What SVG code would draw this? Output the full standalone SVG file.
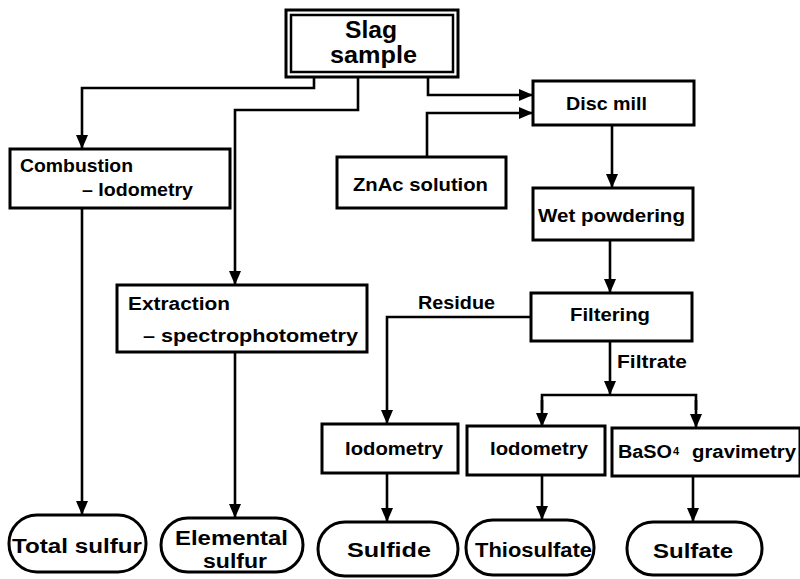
<svg xmlns="http://www.w3.org/2000/svg" width="800" height="579" viewBox="0 0 800 579">
<defs>
<marker id="ah" markerUnits="userSpaceOnUse" markerWidth="14" markerHeight="12" refX="14" refY="6" orient="auto">
<path d="M0,0 L14,6 L0,12 Z" fill="#000"/>
</marker>
<style>
.box{fill:#fff;stroke:#000;stroke-width:3}
.ov{fill:#fff;stroke:#000;stroke-width:3}
.ln{fill:none;stroke:#000;stroke-width:2.6}
.t{font-family:"Liberation Sans",Arial,sans-serif;font-weight:bold;font-size:18px;fill:#000}
.big{font-size:24px}
.ov-t{font-size:20px}
.sub{font-size:11px}
</style>
</defs>
<rect width="800" height="579" fill="#fff"/>
<g id="connectors">
<polyline class="ln" points="314,76 314,88 82,88 82,149" marker-end="url(#ah)"/>
<polyline class="ln" points="358,76 358,110 235,110 235,285" marker-end="url(#ah)"/>
<polyline class="ln" points="428,76 428,95 533,95" marker-end="url(#ah)"/>
<polyline class="ln" points="427,157 427,113 533,113" marker-end="url(#ah)"/>
<polyline class="ln" points="612,125 612,188" marker-end="url(#ah)"/>
<polyline class="ln" points="610,240 610,293" marker-end="url(#ah)"/>
<polyline class="ln" points="531,317 387,317 387,424" marker-end="url(#ah)"/>
<polyline class="ln" points="610,341 610,395" marker-end="url(#ah)"/>
<polyline class="ln" points="542,410 542,395 696,395 696,410"/>
<polyline class="ln" points="542,400 542,427" marker-end="url(#ah)"/>
<polyline class="ln" points="696,400 696,428" marker-end="url(#ah)"/>
<polyline class="ln" points="82,208 82,515" marker-end="url(#ah)"/>
<polyline class="ln" points="235,352 235,518" marker-end="url(#ah)"/>
<polyline class="ln" points="387,473 387,522" marker-end="url(#ah)"/>
<polyline class="ln" points="542,475 542,520" marker-end="url(#ah)"/>
<polyline class="ln" points="693,476 693,522" marker-end="url(#ah)"/>
<text class="t" x="418" y="309" textLength="77" lengthAdjust="spacingAndGlyphs">Residue</text>
<text class="t" x="617" y="368" textLength="70" lengthAdjust="spacingAndGlyphs">Filtrate</text>
</g>
<g id="slag">
<rect x="286" y="10" width="172" height="67" fill="#fff" stroke="#000" stroke-width="3"/>
<rect x="291" y="15" width="162" height="57" fill="none" stroke="#000" stroke-width="2.5"/>
<text class="t big" x="345" y="38" textLength="52" lengthAdjust="spacingAndGlyphs">Slag</text>
<text class="t big" x="330" y="63" textLength="87" lengthAdjust="spacingAndGlyphs">sample</text>
</g>
<g id="discmill">
<rect class="box" x="533" y="81" width="161" height="44"/>
<text class="t" x="566" y="110" textLength="81" lengthAdjust="spacingAndGlyphs">Disc mill</text>
</g>
<g id="znac">
<rect class="box" x="337" y="157" width="169" height="51"/>
<text class="t" x="353" y="191" textLength="135" lengthAdjust="spacingAndGlyphs">ZnAc solution</text>
</g>
<g id="wetpowdering">
<rect class="box" x="533" y="188" width="160" height="52"/>
<text class="t" x="538" y="222" textLength="147" lengthAdjust="spacingAndGlyphs">Wet powdering</text>
</g>
<g id="filtering">
<rect class="box" x="531" y="293" width="161" height="48"/>
<text class="t" x="570" y="321" textLength="80" lengthAdjust="spacingAndGlyphs">Filtering</text>
</g>
<g id="combustion">
<rect class="box" x="10" y="149" width="220" height="59"/>
<text class="t" x="20" y="172" textLength="113" lengthAdjust="spacingAndGlyphs">Combustion</text>
<text class="t" x="82" y="196" textLength="111" lengthAdjust="spacingAndGlyphs">– Iodometry</text>
</g>
<g id="extraction">
<rect class="box" x="117" y="285" width="250" height="67"/>
<text class="t" x="128" y="310" textLength="102" lengthAdjust="spacingAndGlyphs">Extraction</text>
<text class="t" x="143" y="342" textLength="215" lengthAdjust="spacingAndGlyphs">– spectrophotometry</text>
</g>
<g id="iodometry1">
<rect class="box" x="322" y="424" width="136" height="49"/>
<text class="t" x="345" y="455" textLength="98" lengthAdjust="spacingAndGlyphs">Iodometry</text>
</g>
<g id="iodometry2">
<rect class="box" x="467" y="426" width="138" height="49"/>
<text class="t" x="490" y="455" textLength="98" lengthAdjust="spacingAndGlyphs">Iodometry</text>
</g>
<g id="baso4">
<rect class="box" x="612" y="428" width="188" height="48"/>
<text class="t" x="618" y="458" textLength="54" lengthAdjust="spacingAndGlyphs">BaSO</text>
<text class="t sub" x="673" y="455">4</text>
<text class="t" x="692" y="458" textLength="104" lengthAdjust="spacingAndGlyphs">gravimetry</text>
</g>
<g id="totalsulfur">
<rect class="ov" x="9" y="515" width="137" height="57" rx="28" ry="28"/>
<text class="t ov-t" x="12" y="553" textLength="130" lengthAdjust="spacingAndGlyphs">Total sulfur</text>
</g>
<g id="elemental">
<rect class="ov" x="161" y="518" width="142" height="54" rx="27" ry="27"/>
<text class="t ov-t" x="175" y="545" textLength="113" lengthAdjust="spacingAndGlyphs">Elemental</text>
<text class="t ov-t" x="203" y="568" textLength="64" lengthAdjust="spacingAndGlyphs">sulfur</text>
</g>
<g id="sulfide">
<rect class="ov" x="318" y="522" width="140" height="54" rx="27" ry="27"/>
<text class="t ov-t" x="347" y="557" textLength="84" lengthAdjust="spacingAndGlyphs">Sulfide</text>
</g>
<g id="thiosulfate">
<rect class="ov" x="466" y="520" width="128" height="55" rx="27" ry="27"/>
<text class="t ov-t" x="475" y="557" textLength="117" lengthAdjust="spacingAndGlyphs">Thiosulfate</text>
</g>
<g id="sulfate">
<rect class="ov" x="627" y="522" width="135" height="53" rx="26" ry="26"/>
<text class="t ov-t" x="653" y="558" textLength="80" lengthAdjust="spacingAndGlyphs">Sulfate</text>
</g>
</svg>
